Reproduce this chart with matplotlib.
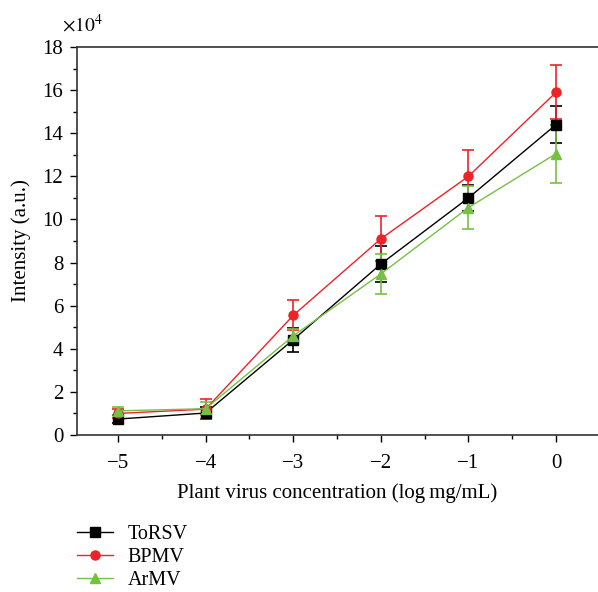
import numpy as np
import matplotlib.pyplot as plt
from matplotlib.ticker import MultipleLocator
from matplotlib.lines import Line2D

plt.rcParams['font.family'] = ['Liberation Serif', 'DejaVu Serif']
plt.rcParams['mathtext.fontset'] = 'stix'

conc = [-5, -4, -3, -2, -1, 0]

# intensity in units of 1e4
torsv = [0.74, 1.02, 4.42, 7.93, 11.0, 14.4]
torsv_err = [0.2, 0.3, 0.55, 0.85, 0.6, 0.85]
bpmv = [1.0, 1.2, 5.55, 9.1, 12.0, 15.9]
bpmv_err = [0.2, 0.45, 0.7, 1.05, 1.2, 1.25]
armv = [1.12, 1.22, 4.6, 7.47, 10.55, 13.05]
armv_err = [0.2, 0.3, 0.3, 0.92, 1.0, 1.35]

series = [
    ("ToRSV", torsv, torsv_err, "black", "s"),
    ("BPMV", bpmv, bpmv_err, "#ee2229", "o"),
    ("ArMV", armv, armv_err, "#76c043", "^"),
]

fig = plt.figure(figsize=(5.98, 5.92), dpi=100)
ax = fig.add_axes([0.1288, 0.2652, 0.8712, 0.6554])

handles = []
for name, vals, err, col, mk in series:
    ax.errorbar(conc, vals, yerr=err, color=col, marker=mk, markersize=6.5,
                linewidth=1.0, elinewidth=1.2, capsize=4.5, capthick=1.2)
    handles.append(Line2D([], [], color=col, marker=mk, markersize=6.5,
                          linewidth=1.0, label=name))

ax.set_xlim(-5.468, 0.479)
ax.set_ylim(0, 18)
ax.xaxis.set_major_locator(MultipleLocator(1))
ax.xaxis.set_minor_locator(MultipleLocator(0.5))
ax.yaxis.set_major_locator(MultipleLocator(2))
ax.yaxis.set_minor_locator(MultipleLocator(1))
ax.xaxis.set_major_formatter(plt.FuncFormatter(lambda v, p: f"{int(round(v))}".replace("-", "\u2212")))

ax.tick_params(which='major', direction='out', length=5, width=1, labelsize=15,
               top=False, right=False)
ax.tick_params(axis='x', which='major', pad=9)
ax.tick_params(axis='y', which='major', pad=5)
ax.tick_params(which='minor', direction='out', length=3, width=1, top=False, right=False)
ax.spines['right'].set_visible(False)
for s in ['left', 'bottom', 'top']:
    ax.spines[s].set_linewidth(1.2)
    ax.spines[s].set_color('#333333')

ax.set_xlabel("Plant virus concentration (log\u2009mg/mL)", fontsize=15, labelpad=7)
ax.set_ylabel("Intensity (a.u.)", fontsize=15, labelpad=8)

fig.text(0.104, 0.94, r"$\times 10^{4}$", fontsize=14, ha='left', va='bottom')

fig.legend(handles=handles, loc='upper left', bbox_to_anchor=(0.128, 0.114),
           frameon=False, fontsize=14.5, handlelength=1.8, handletextpad=0.75,
           labelspacing=0.2, borderaxespad=0, borderpad=0)

fig.savefig("out.png", dpi=100)
